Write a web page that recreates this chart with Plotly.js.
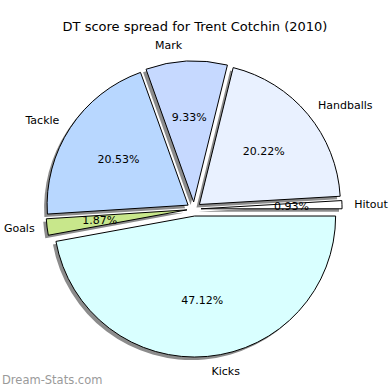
<!DOCTYPE html>
<html>
<head>
<meta charset="utf-8">
<script src="https://cdn.plot.ly/plotly-3.0.1.min.js"></script>
<style>html,body{margin:0;padding:0;background:#fff;}#chart{width:390px;height:390px;}</style>
</head>
<body>
<div id="chart"></div>
<script>
// Data (percent of DT score), counter-clockwise from 3 o'clock
var categories = ["Hitout", "Handballs", "Mark", "Tackle", "Goals", "Kicks"];
var shares = [0.93, 20.22, 9.33, 20.53, 1.87, 47.12];
var sliceColors = ["#ffffff", "#e9f1ff", "#c6d9ff", "#b8d7ff", "#c8e78b", "#d9ffff"];
var chartTitle = "DT score spread for Trent Cotchin (2010)";
var watermark = "Dream-Stats.com";

var W = 390, H = 390;
var cx = 194, cy = 209;      // pie centre (px)
var R = 141;                 // pie radius (px)
var explodeFrac = 0.05;      // explode distance as fraction of R
var explodePx = R * explodeFrac;
var font = "DejaVu Sans, sans-serif";
var clear = categories.map(function () { return "rgba(0,0,0,0)"; });

// Plotly's counter-clockwise layout puts the first slice *ending* at `rotation`;
// shift so the first slice starts at 3 o'clock like the reference.
var total = shares.reduce(function (a, b) { return a + b; }, 0);
var startRotation = 90 - 360 * shares[0] / total;

// build a pie trace of radius r (px) whose slices are shifted by the same explode distance
function pieLayer(r, ox, oy, extra) {
  var half = r + explodePx;
  var t = {
    type: "pie", labels: categories, values: shares, sort: false,
    direction: "counterclockwise", rotation: startRotation,
    pull: categories.map(function () { return explodePx / r; }),
    domain: {
      x: [(cx - half + ox) / W, (cx + half + ox) / W],
      y: [(H - cy - half - oy) / H, (H - cy + half - oy) / H]
    },
    marker: { colors: clear, line: { width: 0 } },
    textinfo: "none", hoverinfo: "skip", showlegend: false
  };
  for (var k in extra) t[k] = extra[k];
  return t;
}
function pctFor(which) {
  return categories.map(function (c) { return which.indexOf(c) >= 0 ? "%{percent:.2%}" : ""; });
}
function withPct(which) {
  return {
    texttemplate: pctFor(which),
    textposition: "inside", insidetextorientation: "horizontal",
    insidetextfont: { family: font, size: 11, color: "#000000" }
  };
}

var traces = [
  // shadow
  pieLayer(R, -3, 3, { marker: { colors: categories.map(function () { return "#8c8c8c"; }), line: { width: 0 } } }),
  // main pie
  pieLayer(R, 0, 0, { marker: { colors: sliceColors, line: { color: "#000000", width: 1 } } }),
  // percentage layers (text only, placed at ~0.6 R like the reference)
  pieLayer(R * 0.945, 0, 0, withPct(["Handballs", "Tackle"])),
  pieLayer(R * 0.77, 0, 0, withPct(["Mark"])),
  pieLayer(R * 1.2, 0, 0, withPct(["Kicks"])),
  pieLayer(R * 0.66, 0, 0, withPct(["Hitout"])),
  pieLayer(R * 0.66, 0, 0, withPct(["Goals"])),
  // category labels
  pieLayer(157 - explodePx, 0, 0, {
    textinfo: "label", textposition: "outside",
    outsidetextfont: { family: font, size: 11, color: "#000000" }
  })
];

var layout = {
  width: W, height: H,
  margin: { l: 0, r: 0, t: 0, b: 0 },
  paper_bgcolor: "#ffffff",
  showlegend: false,
  uniformtext: { mode: "show", minsize: 11 },
  title: { text: chartTitle, font: { family: font, size: 13, color: "#000000" }, x: 0.5, xanchor: "center", y: 1 - 26 / H, yanchor: "middle" },
  annotations: [{
    text: watermark, xref: "paper", yref: "paper", x: 0, y: 1 - 380 / H,
    xanchor: "left", yanchor: "middle", showarrow: false,
    font: { family: font, size: 11.5, color: "#9a9a9a" }
  }]
};

Plotly.newPlot("chart", traces, layout, { staticPlot: true });
</script>
</body>
</html>
